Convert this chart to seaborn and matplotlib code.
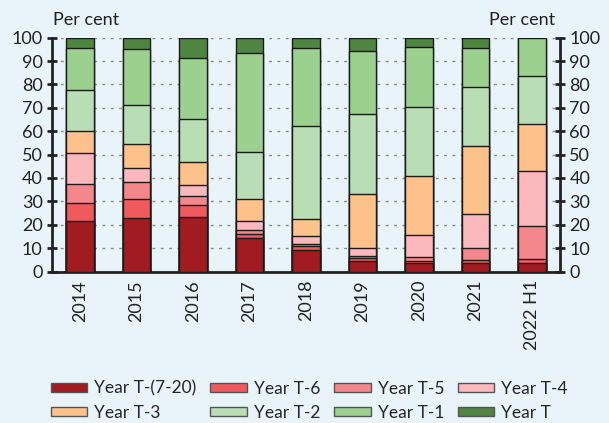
import numpy as np
import pandas as pd
import matplotlib
matplotlib.use('Agg')
import matplotlib.pyplot as plt
import seaborn as sns
from matplotlib.patches import Patch

years = ['2014', '2015', '2016', '2017', '2018', '2019', '2020', '2021', '2022 H1']
series = ['Year T-(7-20)', 'Year T-6', 'Year T-5', 'Year T-4',
          'Year T-3', 'Year T-2', 'Year T-1', 'Year T']

t_7_20 = [21.8, 22.9, 23.5, 14.2, 9.4, 4.7, 3.7, 3.7, 3.7]
t_6 = [7.4, 8.2, 5.0, 1.8, 1.7, 1.0, 1.0, 1.3, 1.6]
t_5 = [8.3, 7.1, 3.8, 1.8, 0.7, 1.1, 1.4, 5.1, 14.4]
t_4 = [13.4, 6.1, 4.7, 3.9, 3.2, 3.3, 9.4, 14.7, 23.3]
t_3 = [9.1, 10.3, 9.9, 9.2, 7.5, 23.2, 25.2, 28.8, 20.1]
t_2 = [17.5, 16.5, 18.3, 20.1, 39.9, 34.1, 29.7, 25.3, 20.7]
t_1 = [18.1, 24.1, 26.1, 42.6, 33.0, 27.0, 25.8, 16.5, 16.1]
t_0 = [4.4, 4.8, 8.7, 6.4, 4.6, 5.6, 3.8, 4.6, 0.3]

colors = ['#a01c20', '#f05a5c', '#f4878b', '#fbb9bd',
          '#fdc18b', '#b9deb5', '#9bd08f', '#4f8541']
bg = '#e8f3fa'

df = pd.DataFrame(dict(zip(series, [t_7_20, t_6, t_5, t_4, t_3, t_2, t_1, t_0])),
                  index=years)
cum = df.cumsum(axis=1)
cum = cum.div(cum[series[-1]], axis=0) * 100

sns.set_style('white')
plt.rcParams['font.family'] = ['Lato', 'DejaVu Sans']

fig = plt.figure(figsize=(6.09, 4.23), dpi=100, facecolor=bg)
ax = fig.add_axes([0.085, 0.358, 0.835, 0.553])
ax.set_facecolor(bg)

# stacked bars: draw cumulative totals from the top layer down
for s, c in reversed(list(zip(series, colors))):
    d = pd.DataFrame({'year': years, 'val': cum[s].values})
    sns.barplot(data=d, x='year', y='val', color=c, width=0.48,
                edgecolor='#1a1a1a', linewidth=1.0, saturation=1, ax=ax,
                zorder=3)

ax.set_xlim(-0.5, len(years) - 0.5)
ax.set_ylim(0, 100)
ax.set_yticks(range(0, 101, 10))
ax.set_xlabel('')
ax.set_ylabel('')
ax.yaxis.grid(True, linestyle=(0, (2, 4)), color='#888888', linewidth=1.0, zorder=0)
ax.set_axisbelow(True)

ax.set_xticks(range(len(years)))
ax.set_xticklabels(years, rotation=90, fontsize=13, color='#222222')
ax.set_xticks(np.arange(0.5, len(years) - 1, 1), minor=True)
ax.tick_params(axis='x', which='major', length=0, pad=6)
ax.tick_params(axis='x', which='minor', direction='in', length=5, width=2, color='#222222')
ax.tick_params(axis='y', which='major', direction='inout', length=7, width=2,
               color='#222222', labelsize=13, labelcolor='#222222',
               left=True, right=True, labelleft=True, labelright=True, pad=3)

for side in ['left', 'right', 'bottom']:
    ax.spines[side].set_color('#222222')
    ax.spines[side].set_linewidth(2)
ax.spines['top'].set_visible(False)

fig.text(0.087, 0.952, 'Per cent', fontsize=13, color='#222222', ha='left', va='center')
fig.text(0.857, 0.952, 'Per cent', fontsize=13, color='#222222', ha='center', va='center')

# legend filled row by row (matplotlib fills columns first)
order = [0, 4, 1, 5, 2, 6, 3, 7]
handles = [Patch(facecolor=colors[i], edgecolor='#555555', linewidth=1) for i in order]
labels = [series[i] for i in order]
fig.legend(handles, labels, loc='upper center', bbox_to_anchor=(0.508, 0.1),
           ncol=4, frameon=False, fontsize=12.5, handlelength=2.1, handleheight=0.45,
           handletextpad=0.4, columnspacing=0.8, labelspacing=0.45,
           borderpad=0, borderaxespad=0)

fig.savefig('out.png', dpi=100, facecolor=bg)
